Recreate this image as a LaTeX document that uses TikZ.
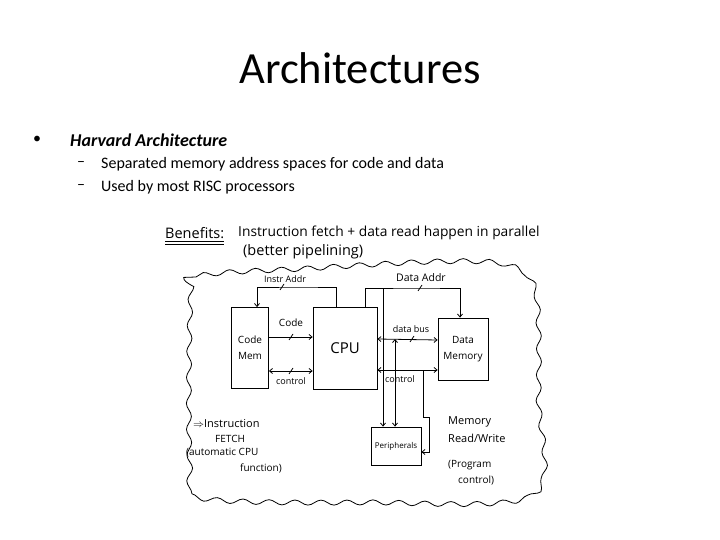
\documentclass[tikz,border=0pt]{standalone}
\usepackage{fontspec}
\setmainfont{Carlito}
\newfontfamily\handfont{Open Sans}
\usetikzlibrary{arrows.meta, decorations.pathmorphing}

\begin{document}
\begin{tikzpicture}[x=1pt, y=-1pt,
  >={Straight Barb[length=3pt, width=5pt]},
  slide/.style={anchor=west, inner sep=0pt},
  hand/.style={font=\handfont\fontsize{9}{10}\selectfont, inner sep=0pt},
  note/.style={anchor=west, inner sep=0pt, font=\handfont\fontsize{10}{12}\selectfont},
  unit/.style={draw, line width=0.8pt, inner sep=0pt, align=center,
               font=\handfont\fontsize{10}{16}\selectfont},
  bus/.style={line width=0.8pt},
]

% Page
\useasboundingbox (0,0) rectangle (720,540);
\fill[white] (0,0) rectangle (720,540);

% Title and bullets
\node[font=\fontsize{44.5}{52}\selectfont] (title) at (360,68) {Architectures};
\node[font=\fontsize{16}{19}\selectfont] (bul) at (37,140) {\textbullet};
\node[slide, font=\bfseries\itshape\fontsize{18}{21}\selectfont] (harv) at (70,140) {Harvard Architecture};
\node[slide, font=\fontsize{16}{19}\selectfont] (dash1) at (77,164) {--};
\node[slide, font=\fontsize{16}{19}\selectfont] (sep) at (101,164) {Separated memory address spaces for code and data};
\node[slide, font=\fontsize{16}{19}\selectfont] (dash2) at (77,187) {--};
\node[slide, font=\fontsize{16}{19}\selectfont] (risc) at (101,187) {Used by most RISC processors};

% Benefits
\node[note, font=\handfont\fontsize{14.5}{16}\selectfont] (benef) at (165,233) {Benefits:};
\draw[bus] ([yshift=-3pt]benef.south west) -- ([yshift=-3pt]benef.south east);
\draw[bus] ([yshift=-6pt]benef.south west) -- ([yshift=-6pt]benef.south east);
\node[note, font=\handfont\fontsize{13.8}{16}\selectfont] (par) at (238,233) {Instruction fetch + data read happen in parallel};
\node[note, font=\handfont\fontsize{14.5}{16}\selectfont] (pipe) at (243,252) {(better pipelining)};

% Cloud
\draw[bus, decorate, decoration={snake, segment length=26pt, amplitude=2.5pt}]
  plot[smooth cycle, tension=0.5] coordinates {(183,300) (196,277) (300,270) (430,263)
    (500,266) (529,292) (532,400) (526,497) (360,504) (196,500) (182,470)};

% Units
\node[unit, minimum width=37pt, minimum height=81pt] (codemem) at (250,348) {Code\\Mem};
\node[unit, minimum width=64pt, minimum height=82pt, font=\handfont\fontsize{15}{17}\selectfont] (cpu) at (345,348) {CPU};
\node[unit, minimum width=50pt, minimum height=62pt, font=\handfont\fontsize{10}{12}\selectfont] (datamem) at (463,349) {Data\\[4pt]Memory};
\node[unit, minimum width=50pt, minimum height=38pt, font=\handfont\fontsize{8}{10}\selectfont] (periph) at (396,446) {Peripherals};

% Code side buses
\coordinate (iaddr) at (300,287);
\draw[bus, ->] ([xshift=-9pt]cpu.north) |- (iaddr) -| ([xshift=7pt]codemem.north);
\node[hand] (ialbl) at (285,279) {Instr Addr};
\draw[bus, ->] ([yshift=11pt]codemem.east) -- ([yshift=11pt]cpu.west);
\node[hand, font=\handfont\fontsize{10}{12}\selectfont] (codelbl) at (291,323) {Code};
\draw[bus, <->] ([yshift=-23pt]codemem.east) -- ([yshift=-23pt]cpu.west);
\node[hand] (ctl1) at (291,381) {control};

% Data side buses
\coordinate (daddr) at (420,288);
\draw[bus, ->] ([xshift=20pt]cpu.north) |- (daddr) -| ([xshift=-3pt]datamem.north);
\node[hand, font=\handfont\fontsize{10.5}{12}\selectfont] (dalbl) at (421,278) {Data Addr};
\draw[bus, <->] ([yshift=9pt]cpu.east) -- ([yshift=9pt]datamem.west);
\node[hand] (dblbl) at (411,329) {data bus};
\draw[bus, <->] ([yshift=-22pt]cpu.east) -- ([yshift=-21pt]datamem.west);
\node[hand] (ctl2) at (400,379) {control};

% Peripheral taps
\coordinate (atap) at (383,288);
\coordinate (dtap) at (395,339);
\coordinate (ctap) at (423,370);
\draw[bus, ->] (atap) -- (atap |- periph.north);
\draw[bus, <->] (dtap) -- (dtap |- periph.north);
\draw[bus, ->] (ctap) -- ++(0,47) -- ++(6,0) |- ([yshift=-6pt]periph.east);

% Bus ticks
\foreach \tx/\ty in {282/287, 291/337, 291/371, 420/288, 412/339}
  \draw[bus] (\tx-2,\ty+3) -- (\tx+2,\ty-3);

% Notes
\node[note, font=\handfont\fontsize{11}{12}\selectfont] (fetch1) at (193,424) {$\Rightarrow$Instruction};
\node[note] (fetch2) at (215,439) {FETCH};
\node[note] (fetch3) at (186,453) {(automatic CPU};
\node[note] (fetch4) at (240,468) {function)};
\node[note, font=\handfont\fontsize{11}{12}\selectfont] (mem1) at (448,422) {Memory};
\node[note, font=\handfont\fontsize{11}{12}\selectfont] (mem2) at (448,438) {Read/Write};
\node[note] (mem3) at (448,465) {(Program};
\node[note] (mem4) at (458,480) {control)};

\end{tikzpicture}
\end{document}
